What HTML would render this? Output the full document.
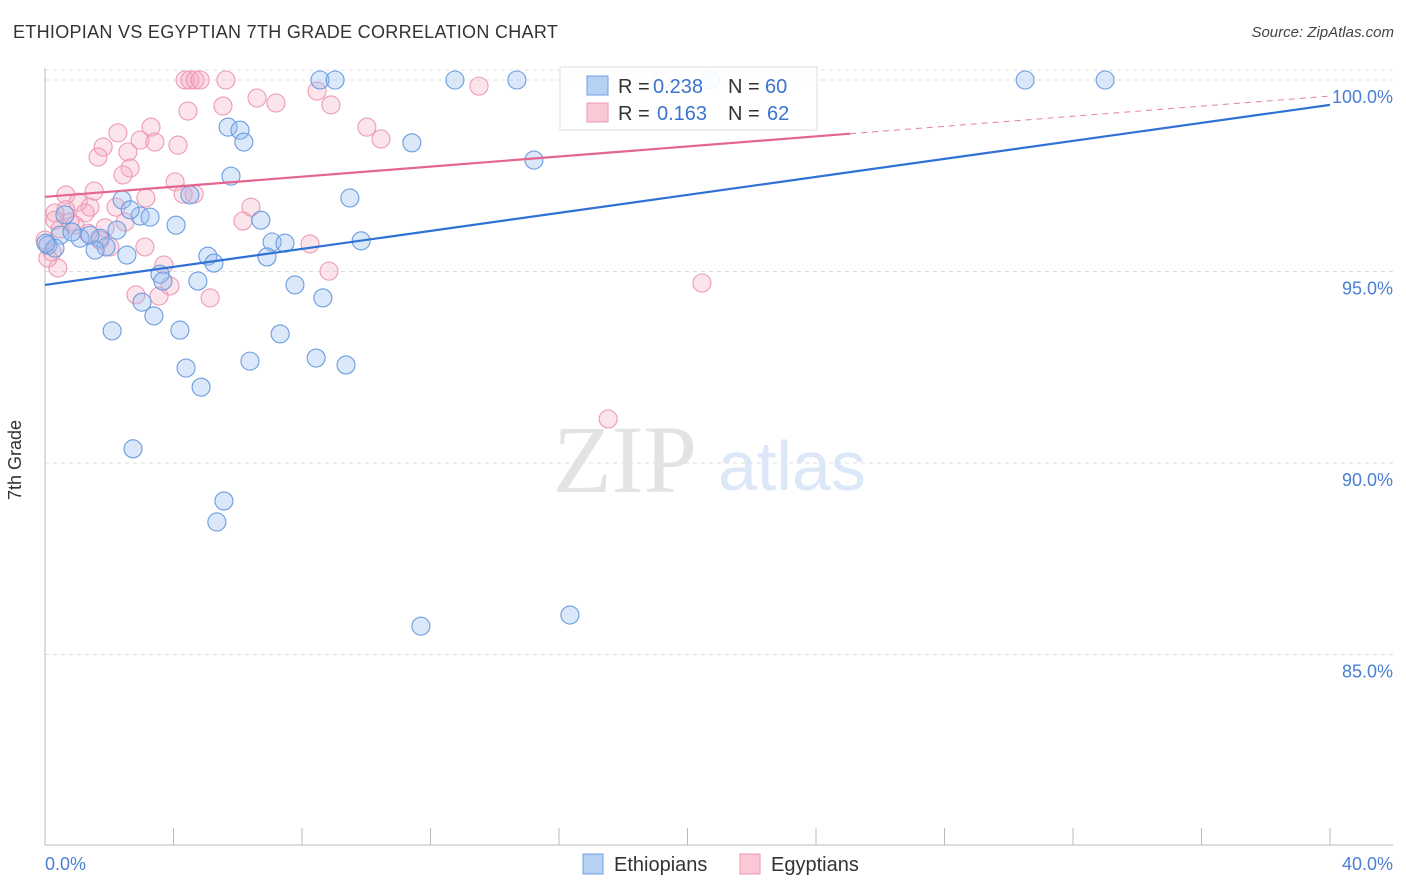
<!DOCTYPE html>
<html><head><meta charset="utf-8">
<style>
body{margin:0;background:#fff;font-family:"Liberation Sans",sans-serif;}
#wrap{position:relative;width:1406px;height:892px;overflow:hidden;}
.t{position:absolute;white-space:nowrap;}
</style></head><body>
<div id="wrap">
<div class="t" style="left:13px;top:22px;font-size:18px;color:#333;letter-spacing:0.3px">ETHIOPIAN VS EGYPTIAN 7TH GRADE CORRELATION CHART</div>
<div class="t" style="right:12px;top:24px;font-size:15px;color:#444;font-style:italic">Source: ZipAtlas.com</div>
<div class="t" style="left:5px;top:500px;font-size:18px;color:#333;transform:rotate(-90deg);transform-origin:left top;">7th Grade</div>
<svg id="svg" width="1406" height="892" style="position:absolute;left:0;top:0"></svg>
</div>
<script>
const blueX=[8.56,9.03,12.76,14.69,20.70,30.51,33.0,5.70,6.07,6.19,11.42,15.22,5.79,9.49,4.51,2.40,2.96,3.27,4.08,6.72,0.62,0.47,1.09,1.71,2.24,1.90,1.56,2.55,7.07,7.47,9.84,0.09,0.31,5.07,5.26,6.91,3.58,3.67,4.76,7.78,8.65,3.02,3.39,2.09,4.20,7.32,6.38,8.44,9.37,4.39,4.86,2.74,5.57,5.35,11.70,16.34,1.40,0.84,0.03,2.65];
const blueY=[100,100,100,100,100,100,100,98.77,98.69,98.38,98.36,97.91,97.49,96.92,97.0,96.87,96.45,96.42,96.21,96.34,96.48,95.95,95.87,95.87,96.08,95.64,95.56,95.43,95.77,95.74,95.80,95.69,95.61,95.40,95.22,95.38,94.93,94.75,94.75,94.65,94.31,94.20,93.84,93.45,93.47,93.37,92.66,92.74,92.56,92.48,91.98,90.37,89.01,88.46,85.74,86.03,95.95,96.03,95.74,96.61];
const pinkX=[4.36,4.51,4.67,4.83,5.63,19.18,13.51,8.47,8.90,6.60,7.19,5.54,4.45,10.02,3.30,2.27,2.96,3.42,4.14,10.46,1.81,2.58,1.65,2.65,2.43,1.53,0.65,4.05,4.30,4.64,3.14,6.41,2.21,1.40,1.03,0.65,0.31,6.16,2.49,1.87,0.78,1.34,0.47,3.11,2.02,8.25,0.22,0.40,3.70,8.84,20.45,2.83,3.55,3.89,5.14,17.53,1.25,1.71,0.93,0.0,0.31,0.09];
const pinkY=[100,100,100,100,100,100,99.84,99.71,99.35,99.53,99.40,99.32,99.19,98.77,98.77,98.62,98.43,98.38,98.30,98.46,98.25,98.12,97.99,97.70,97.52,97.10,97.0,97.34,97.02,97.02,96.92,96.68,96.68,96.68,96.81,96.61,96.53,96.32,96.29,96.14,96.29,96.0,96.11,95.64,95.64,95.72,95.51,95.09,95.17,95.01,94.70,94.39,94.36,94.62,94.31,91.15,96.53,95.82,96.21,95.82,96.34,95.35];
const yTicks=[100,95,90,85];
const yTickLabels=["100.0%","95.0%","90.0%","85.0%"];
const blueTrend=[94.65,99.35];
const pinkTrend=[96.95,99.58];
const pinkSolidEnd=25.06;

const X0=45,X1=1330,Y0=80,PPU=38.3;
const sx=v=>X0+(v/40)*(X1-X0);
const sy=v=>Y0+(100-v)*PPU;
const svg=document.getElementById('svg');
const NS='http://www.w3.org/2000/svg';
function mk(tag,attrs,name,parent){const e=document.createElementNS(NS,tag);for(const k in attrs)e.setAttribute(k,attrs[k]);


(parent||svg).appendChild(e);return e;}
mk('line',{x1:X0,x2:1393,y1:70,y2:70,stroke:'#e2e2e2','stroke-dasharray':'4,4'},'grid-top');
yTicks.forEach((v,i)=>{
 mk('line',{x1:X0,x2:1393,y1:sy(v),y2:sy(v),stroke:'#dddddd','stroke-dasharray':'4,4'},'gridline-'+v);
 const t=mk('text',{x:1393,y:sy(v)+23,'text-anchor':'end','font-size':18,fill:'#4a7fd4','font-family':'Liberation Sans'},'y-tick-label');
 t.textContent=yTickLabels[i];
});
mk('line',{x1:X0,x2:X0,y1:68,y2:845,stroke:'#bbb'},'y-axis');
mk('line',{x1:X0,x2:1393,y1:845,y2:845,stroke:'#bbb'},'x-axis');
for(let i=0;i<=10;i++){mk('line',{x1:sx(i*4),x2:sx(i*4),y1:828,y2:845,stroke:'#bbb'},'x-tick');}
let t=mk('text',{x:45,y:870,'font-size':18,fill:'#4a7fd4','font-family':'Liberation Sans'},'x-tick-label');t.textContent='0.0%';
t=mk('text',{x:1393,y:870,'text-anchor':'end','font-size':18,fill:'#4a7fd4','font-family':'Liberation Sans'},'x-tick-label');t.textContent='40.0%';
t=mk('text',{x:553,y:492,'font-size':96,fill:'#e3e3e3','font-family':'Liberation Serif'},'watermark-zip');t.textContent='ZIP';
t=mk('text',{x:718,y:490,'font-size':70,fill:'#dce8f7','font-family':'Liberation Sans'},'watermark-atlas');t.textContent='atlas';
pinkX.forEach((v,i)=>mk('circle',{cx:sx(v),cy:sy(pinkY[i]),r:9,fill:'rgba(245,165,190,0.3)',stroke:'#ee9ab5','stroke-width':1.1},'egyptian-point'));
blueX.forEach((v,i)=>mk('circle',{cx:sx(v),cy:sy(blueY[i]),r:9,fill:'rgba(150,190,240,0.35)',stroke:'#6b9ce0','stroke-width':1.1},'ethiopian-point'));
mk('line',{x1:sx(0),y1:sy(blueTrend[0]),x2:sx(40),y2:sy(blueTrend[1]),stroke:'#2f72d6','stroke-width':2.2},'ethiopian-trend-line');
const pv=x=>pinkTrend[0]+(pinkTrend[1]-pinkTrend[0])*x/40;
mk('line',{x1:sx(0),y1:sy(pv(0)),x2:sx(pinkSolidEnd),y2:sy(pv(pinkSolidEnd)),stroke:'#e4668f','stroke-width':2.2},'egyptian-trend-line');
mk('line',{x1:sx(pinkSolidEnd),y1:sy(pv(pinkSolidEnd)),x2:sx(40),y2:sy(pv(40)),stroke:'#e8809f','stroke-width':1,'stroke-dasharray':'6,5'},'egyptian-trend-extension');
mk('rect',{x:560,y:67,width:257,height:63,fill:'rgba(255,255,255,0.9)',stroke:'#ddd'},'legend-box');
mk('rect',{x:587,y:76,width:21,height:19,fill:'#b7d1f5',stroke:'#6f9fe0'},'legend-swatch-ethiopians');
mk('rect',{x:587,y:103,width:21,height:19,fill:'#fbc8d6',stroke:'#ee9ab5'},'legend-swatch-egyptians');
function lt(x,y,s,c,n){const e=mk('text',{x:x,y:y,'font-size':20,fill:c,'font-family':'Liberation Sans'},n);e.textContent=s;}
lt(618,93,'R =','#333','legend-r-label');lt(653,93,'0.238','#3a74d0','legend-r-value');
lt(728,93,'N =','#333','legend-n-label');lt(765,93,'60','#3a74d0','legend-n-value');
lt(618,120,'R =','#333','legend-r-label');lt(657,120,'0.163','#3a74d0','legend-r-value');
lt(728,120,'N =','#333','legend-n-label');lt(767,120,'62','#3a74d0','legend-n-value');
mk('rect',{x:583,y:854,width:20,height:20,fill:'#b7d1f5',stroke:'#6f9fe0'},'bottom-legend-swatch-ethiopians');
lt(614,871,'Ethiopians','#333','bottom-legend-ethiopians');
mk('rect',{x:740,y:854,width:20,height:20,fill:'#fbc8d6',stroke:'#ee9ab5'},'bottom-legend-swatch-egyptians');
lt(771,871,'Egyptians','#333','bottom-legend-egyptians');
</script>
</body></html>
